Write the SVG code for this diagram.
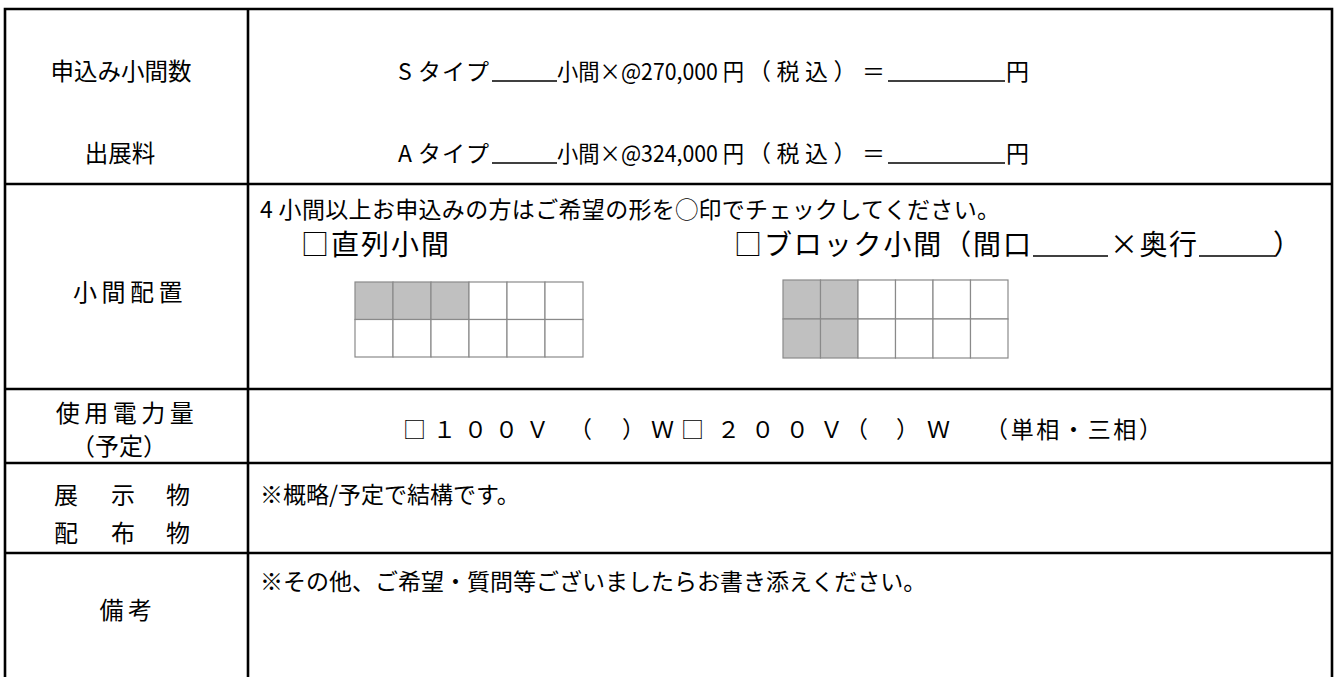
<svg xmlns="http://www.w3.org/2000/svg" width="1335" height="677" viewBox="0 0 1335 677">
<style>
.t{font-family:"Noto Sans CJK JP","Noto Sans",sans-serif;font-size:23px;fill:#000;dominant-baseline:central}
.big{font-size:28px}
.lab{font-family:"Noto Sans CJK JP","Noto Sans",sans-serif;font-size:24px;fill:#000;dominant-baseline:central;text-anchor:middle;letter-spacing:4.5px}
.c{letter-spacing:0}
.sm{font-size:23.5px;letter-spacing:0}
.b{stroke:#000;stroke-width:2.6;fill:none}
.u{stroke:#000;stroke-width:1.6}
.g{stroke:#8a8a8a;stroke-width:1.2;fill:#fff}
.s{fill:#c0c0c0}
</style>
<rect width="1335" height="677" fill="#fff"/>
<g id="table">
<path class="b" d="M5,677 V9 H1332 V677 M248,9 V677 M5,184 H1332 M5,389 H1332 M5,463 H1332 M5,553 H1332"/>
</g>
<g id="row-fee">
<text class="lab sm" x="121" y="70">申込み小間数</text>
<text class="lab sm" x="120" y="152">出展料</text>
<text class="t" x="398" y="70">S</text>
<text class="t" x="418" y="70" textLength="71" lengthAdjust="spacing">タイプ</text>
<line class="u" x1="492" y1="81" x2="557" y2="81"/>
<text class="t" x="557" y="70" textLength="187" lengthAdjust="spacingAndGlyphs">小間×@270,000 円</text>
<text class="t" x="748" y="70" textLength="137" lengthAdjust="spacing">（税込）＝</text>
<line class="u" x1="888" y1="81" x2="1005" y2="81"/>
<text class="t" x="1006" y="70">円</text>
<text class="t" x="398" y="152">A</text>
<text class="t" x="418" y="152" textLength="71" lengthAdjust="spacing">タイプ</text>
<line class="u" x1="492" y1="163" x2="557" y2="163"/>
<text class="t" x="557" y="152" textLength="187" lengthAdjust="spacingAndGlyphs">小間×@324,000 円</text>
<text class="t" x="748" y="152" textLength="137" lengthAdjust="spacing">（税込）＝</text>
<line class="u" x1="888" y1="163" x2="1005" y2="163"/>
<text class="t" x="1006" y="152">円</text>
</g>
<g id="row-layout">
<text class="lab" x="130" y="290">小間配置</text>
<text class="t" x="260" y="208" textLength="740" lengthAdjust="spacing">4 小間以上お申込みの方はご希望の形を◯印でチェックしてください。</text>
<text class="t big" x="301" y="243" textLength="148" lengthAdjust="spacing">□直列小間</text>
<text class="t big" x="734" y="243" textLength="297" lengthAdjust="spacing">□ブロック小間（間口</text>
<line class="u" x1="1033" y1="256" x2="1108" y2="256"/>
<text class="t big" x="1110" y="243" textLength="87" lengthAdjust="spacing">×奥行</text>
<line class="u" x1="1199" y1="256" x2="1275" y2="256"/>
<text class="t big" x="1273" y="243">）</text>
</g>
<g id="grid-straight">
<rect class="g s" x="355" y="282" width="38" height="37.5"/>
<rect class="g s" x="393" y="282" width="38" height="37.5"/>
<rect class="g s" x="431" y="282" width="38" height="37.5"/>
<rect class="g" x="469" y="282" width="38" height="37.5"/>
<rect class="g" x="507" y="282" width="38" height="37.5"/>
<rect class="g" x="545" y="282" width="38" height="37.5"/>
<rect class="g" x="355" y="319.5" width="38" height="37.5"/>
<rect class="g" x="393" y="319.5" width="38" height="37.5"/>
<rect class="g" x="431" y="319.5" width="38" height="37.5"/>
<rect class="g" x="469" y="319.5" width="38" height="37.5"/>
<rect class="g" x="507" y="319.5" width="38" height="37.5"/>
<rect class="g" x="545" y="319.5" width="38" height="37.5"/>
</g>
<g id="grid-block">
<rect class="g s" x="783" y="280" width="37.5" height="39"/>
<rect class="g s" x="820.5" y="280" width="37.5" height="39"/>
<rect class="g" x="858" y="280" width="37.5" height="39"/>
<rect class="g" x="895.5" y="280" width="37.5" height="39"/>
<rect class="g" x="933" y="280" width="37.5" height="39"/>
<rect class="g" x="970.5" y="280" width="37.5" height="39"/>
<rect class="g s" x="783" y="319" width="37.5" height="39"/>
<rect class="g s" x="820.5" y="319" width="37.5" height="39"/>
<rect class="g" x="858" y="319" width="37.5" height="39"/>
<rect class="g" x="895.5" y="319" width="37.5" height="39"/>
<rect class="g" x="933" y="319" width="37.5" height="39"/>
<rect class="g" x="970.5" y="319" width="37.5" height="39"/>
</g>
<g id="row-power">
<text class="lab" x="127" y="411">使用電力量</text>
<text class="lab c" x="119" y="444">（予定）</text>
<text class="t" x="403" y="428">□</text>
<text class="t" x="433" y="428" textLength="116" lengthAdjust="spacing">１００Ｖ</text>
<text class="t" x="569" y="428" textLength="76" lengthAdjust="spacing">（ ）</text>
<text class="t" x="651" y="428">Ｗ</text>
<text class="t" x="681" y="428">□</text>
<text class="t" x="717" y="428" textLength="126" lengthAdjust="spacing">２００Ｖ</text>
<text class="t" x="845" y="428" textLength="74" lengthAdjust="spacing">（ ）</text>
<text class="t" x="927" y="428">Ｗ</text>
<text class="t" x="985" y="428" textLength="177" lengthAdjust="spacing">（単相・三相）</text>
</g>
<g id="row-exhibit">
<text class="lab c" x="66" y="493">展</text>
<text class="lab c" x="123" y="493">示</text>
<text class="lab c" x="178" y="493">物</text>
<text class="lab c" x="66" y="531">配</text>
<text class="lab c" x="123" y="531">布</text>
<text class="lab c" x="178" y="531">物</text>
<text class="t" x="260" y="493">※概略/予定で結構です。</text>
</g>
<g id="row-notes">
<text class="lab" x="128" y="608">備考</text>
<text class="t" x="260" y="580">※その他、ご希望・質問等ございましたらお書き添えください。</text>
</g>
</svg>
